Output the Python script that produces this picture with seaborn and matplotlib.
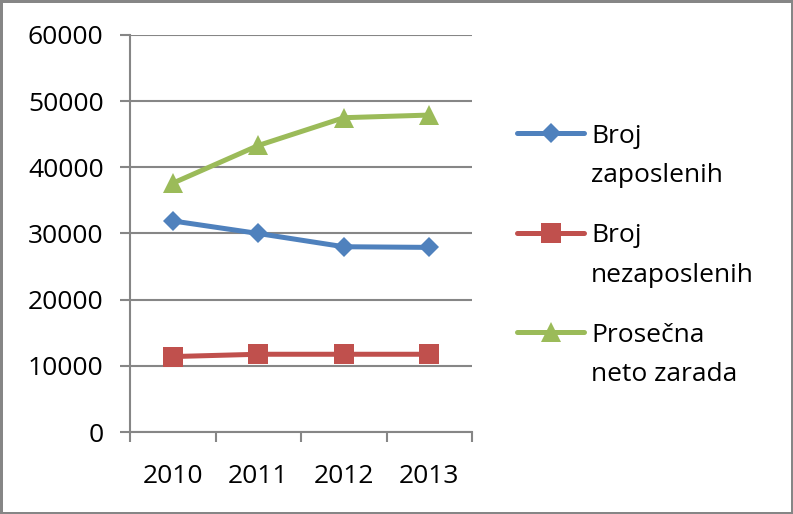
import matplotlib
matplotlib.use("Agg")

import matplotlib.pyplot as plt
from matplotlib.legend_handler import HandlerLine2D
import seaborn as sns
import pandas as pd

years = ["2010", "2011", "2012", "2013"]
zaposleni = [31900, 30000, 28000, 27900]
nezaposleni = [11400, 11750, 11750, 11750]
zarada = [37600, 43300, 47500, 47900]

series = ["Broj\nzaposlenih", "Broj\nnezaposlenih", "Prosečna\nneto zarada"]
colors = ["#4F81BD", "#C0504D", "#9BBB59"]
markers = ["D", "s", "^"]
msizes = [10.5, 14, 14.5]

df = pd.DataFrame({
    "godina": years * 3,
    "vrednost": zaposleni + nezaposleni + zarada,
    "serija": [s for s in series for _ in years],
})

GRAY = "#868686"
FS = 19
LINESP = 1.75

sns.set_theme(style="white")
plt.rcParams["font.family"] = ["Open Sans", "DejaVu Sans"]
plt.rcParams["text.color"] = "black"


class FirstLineHandler(HandlerLine2D):
    # move the handle up to the first line of a two-line label
    def create_artists(self, legend, orig_handle, xdescent, ydescent,
                       width, height, fontsize, trans):
        arts = super().create_artists(legend, orig_handle, xdescent, ydescent,
                                      width, height, fontsize, trans)
        shift = fontsize * LINESP * 0.5
        for a in arts:
            a.set_ydata([y + shift for y in a.get_ydata()])
        return arts


fig = plt.figure(figsize=(7.93, 5.14), dpi=100)
ax = fig.add_axes([130 / 793, 1 - 432 / 514, (472 - 130) / 793, (432 - 35) / 514])

for s, c, m, ms in zip(series, colors, markers, msizes):
    sns.lineplot(data=df[df["serija"] == s], x="godina", y="vrednost",
                 color=c, marker=m, markersize=ms, markeredgewidth=0,
                 linewidth=3.6, label=s, ax=ax, sort=False)

ax.set_ylim(0, 60000)
ax.set_xlim(-0.5, 3.5)
ax.set_yticks(range(0, 60001, 10000))
ax.set_xticks(range(4))
ax.set_xticklabels(years)
ax.set_xticks([-0.5, 0.5, 1.5, 2.5, 3.5], minor=True)
ax.set_xlabel("")
ax.set_ylabel("")

ax.yaxis.grid(True, color=GRAY, linewidth=1.5)
ax.set_axisbelow(True)
for side in ["top", "right"]:
    ax.spines[side].set_visible(False)
for side in ["left", "bottom"]:
    ax.spines[side].set_color(GRAY)
    ax.spines[side].set_linewidth(1.5)

ax.tick_params(axis="y", which="major", length=7, width=1.5, color=GRAY,
               labelsize=FS, pad=12, labelcolor="black", left=True)
ax.tick_params(axis="x", which="major", length=0, labelsize=FS, pad=23,
               labelcolor="black")
ax.tick_params(axis="x", which="minor", length=7, width=1.5, color=GRAY,
               bottom=True)

handles, labels = ax.get_legend_handles_labels()
leg = ax.legend(handles, labels, loc="upper left",
                bbox_to_anchor=(517 / 793, 1 - 124 / 514),
                bbox_transform=fig.transFigure, frameon=False,
                fontsize=FS, borderpad=0, borderaxespad=0,
                handlelength=2.55, handletextpad=0.25, labelspacing=1.33,
                labelcolor="black",
                handler_map={matplotlib.lines.Line2D: FirstLineHandler()})
for t in leg.get_texts():
    t.set_linespacing(LINESP)

fig.patch.set_edgecolor(GRAY)
fig.patch.set_linewidth(2.5)

fig.savefig("out.png", dpi=100)
plt.close(fig)
